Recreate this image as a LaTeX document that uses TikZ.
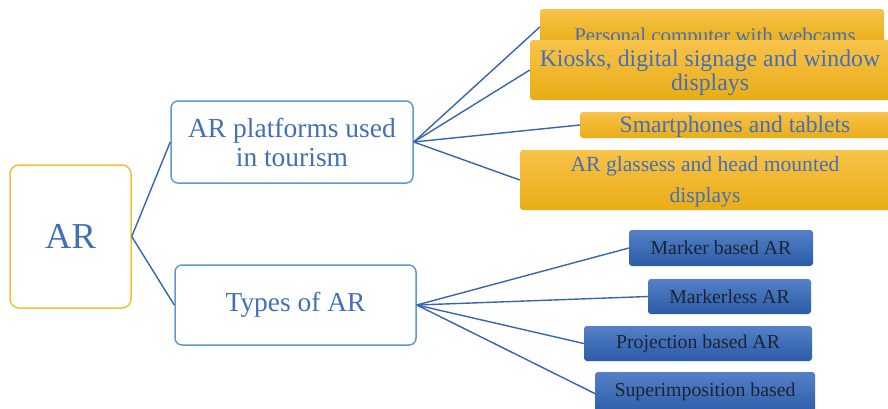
\documentclass[tikz,border=0pt]{standalone}
\usepackage{fontspec}
\setmainfont{Liberation Serif}
\definecolor{lineblue}{HTML}{3566AE}
\definecolor{textblue}{HTML}{4270B8}
\definecolor{arborder}{HTML}{F6BE3A}
\definecolor{midborder}{HTML}{5B9BD5}
\definecolor{ytop}{HTML}{F9C24A}
\definecolor{ybot}{HTML}{E9AD16}
\definecolor{btop}{HTML}{5480C6}
\definecolor{bbot}{HTML}{2B5CA8}
\definecolor{dark}{HTML}{1C2433}
\begin{document}
\begin{tikzpicture}[x=1pt,y=-1pt,
  conn/.style={draw=lineblue,line width=1.4pt},
  rootbox/.style={draw=arborder,line width=1.5pt,fill=white,rounded corners=9pt,inner sep=0pt,text=textblue},
  midbox/.style={draw=midborder,line width=1.5pt,fill=white,rounded corners=7pt,inner sep=0pt,text=textblue,align=center},
  ybox/.style={draw=none,top color=ytop,bottom color=ybot,rounded corners=3pt,inner sep=0pt},
  ytext/.style={text=textblue,align=center,inner sep=0pt},
  bbox/.style={draw=none,top color=btop,bottom color=bbot,rounded corners=3pt,inner sep=0pt,text=dark},
  btext/.style={font=\fontsize{19.8}{22}\selectfont}
]
\clip (0,0) rectangle (888,408);
\fill[white] (0,0) rectangle (888,408);

% root and middle
\node[rootbox,minimum width=121pt,minimum height=143pt,font=\fontsize{36.5}{40}\selectfont] (ar) at (70.5,236.5) {AR};
\node[midbox,minimum width=242pt,minimum height=82pt,font=\fontsize{27.5}{29}\selectfont] (plat) at (292,142) {AR platforms used\\in tourism};
\node[midbox,minimum width=241pt,minimum height=80pt,font=\fontsize{27.4}{29}\selectfont] (types) at (295.5,305) {Types of AR};

% yellow boxes
\node[ybox,minimum width=344pt,minimum height=36pt] (pc) at (712,27) {};
\node[ytext,font=\fontsize{20.9}{22}\selectfont] (pct) at (715,37) {Personal computer with webcams};
\node[ybox,minimum width=360pt,minimum height=60pt] (kiosk) at (710,70) {};
\node[ytext,font=\fontsize{23.8}{24}\selectfont] (kioskt) at (710,72.5) {Kiosks, digital signage and window\\displays};
\node[ybox,minimum width=312pt,minimum height=26pt] (smart) at (736,125) {};
\node[ytext,font=\fontsize{23.6}{24}\selectfont] (smartt) at (735,126.5) {Smartphones and tablets};
\node[ybox,minimum width=372pt,minimum height=60pt] (glass) at (706,180) {};
\node[ytext,font=\fontsize{21.6}{31}\selectfont] (glasst) at (705,181.5) {AR glassess and head mounted\\displays};

% blue boxes
\node[bbox,minimum width=184pt,minimum height=36pt,btext] (marker) at (721,248) {Marker based AR};
\node[bbox,minimum width=163pt,minimum height=35pt,btext] (mless) at (729.5,296.5) {Markerless AR};
\node[bbox,minimum width=228pt,minimum height=35pt,btext] (proj) at (698,343.5) {Projection based AR};
\node[bbox,minimum width=220pt,minimum height=43pt] (super) at (705,393.5) {};
\node[inner sep=0pt,text=dark,btext] (supert) at (705,392) {Superimposition based};

% connectors
\draw[conn] (ar.east) -- (plat.west);
\draw[conn] (ar.east) -- (types.west);
\draw[conn] (plat.east) -- (pc.west);
\draw[conn] (plat.east) -- (kiosk.west);
\draw[conn] (plat.east) -- (smart.west);
\draw[conn] (plat.east) -- (glass.west);
\draw[conn] (types.east) -- (marker.west);
\draw[conn] (types.east) -- (mless.west);
\draw[conn] (types.east) -- (proj.west);
\draw[conn] (types.east) -- (super.west);
\end{tikzpicture}
\end{document}
